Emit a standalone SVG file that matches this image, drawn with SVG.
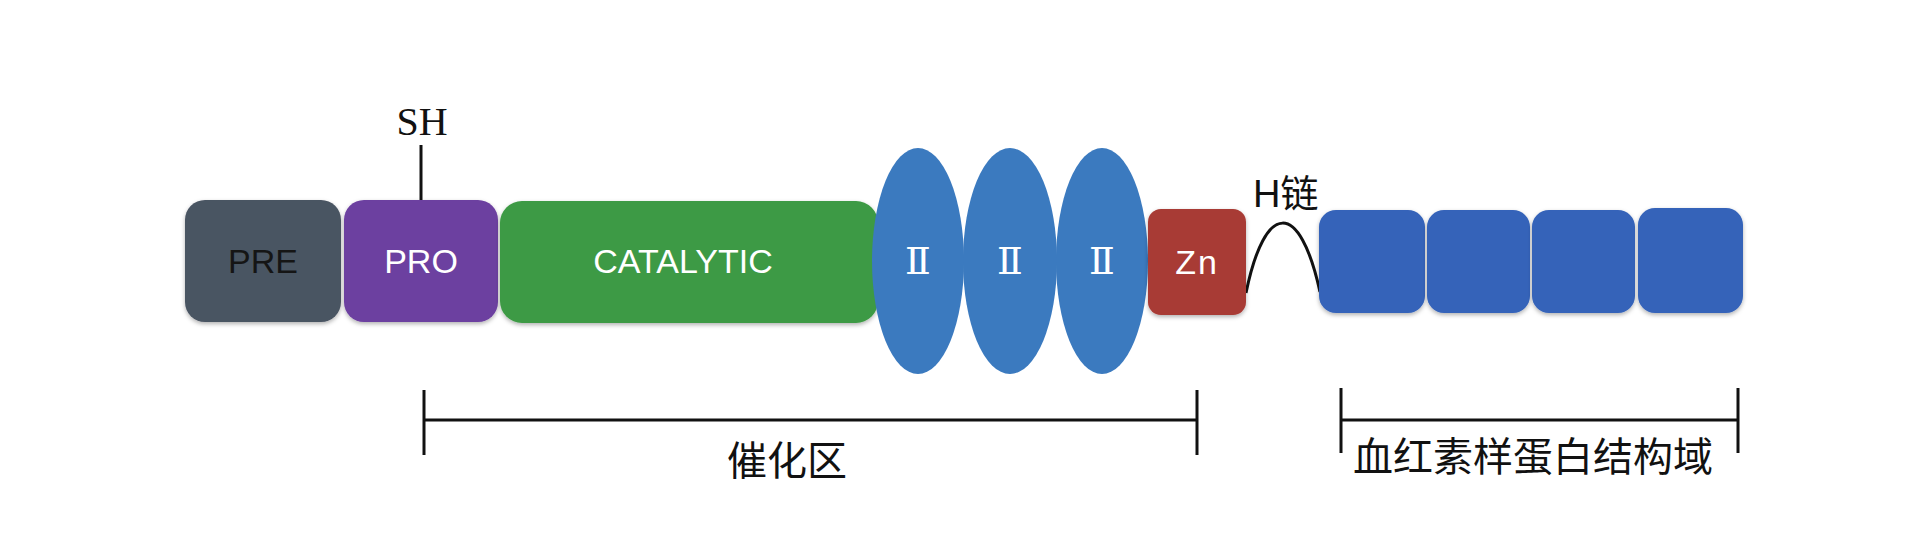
<svg xmlns="http://www.w3.org/2000/svg" width="1928" height="543" viewBox="0 0 1928 543">
<style>
.lbl{font-family:"Liberation Sans",Arial,sans-serif;font-size:34px;text-anchor:middle}
.w{fill:#ffffff}
.cjk{font-family:"Noto Sans CJK SC",sans-serif;font-size:40px;fill:#111}
.rn{font-family:"DejaVu Serif","Noto Sans CJK SC",serif;font-size:38px;fill:#fff;text-anchor:middle}
.ln{stroke:#111;stroke-width:3;fill:none}
</style>
<defs>
<filter id="sh" x="-10%" y="-10%" width="120%" height="130%">
<feDropShadow dx="0" dy="2" stdDeviation="2" flood-color="#000" flood-opacity="0.3"/>
</filter>
</defs>
<rect width="1928" height="543" fill="#ffffff"/>
<g id="connectors">
<line class="ln" x1="421" y1="145" x2="421" y2="201"/>
<path class="ln" d="M1246,293 C1265,200 1300,200 1320,292"/>
<line class="ln" x1="424" y1="390" x2="424" y2="455"/>
<line class="ln" x1="424" y1="420" x2="1197" y2="420"/>
<line class="ln" x1="1197" y1="390" x2="1197" y2="455"/>
<line class="ln" x1="1341" y1="388" x2="1341" y2="453"/>
<line class="ln" x1="1341" y1="420" x2="1738" y2="420"/>
<line class="ln" x1="1738" y1="388" x2="1738" y2="453"/>
</g>
<g id="sh-label"><text x="422" y="135" font-family="Liberation Serif,serif" font-size="40" text-anchor="middle" fill="#111">SH</text></g>
<g id="pre"><rect x="185" y="200" width="156" height="122" rx="20" fill="#4a5462" filter="url(#sh)"/><text class="lbl" x="263" y="273" fill="#151515">PRE</text></g>
<g id="pro"><rect x="344" y="200" width="154" height="122" rx="20" fill="#6c3fa0" filter="url(#sh)"/><text class="lbl w" x="421" y="273">PRO</text></g>
<g id="catalytic"><rect x="500" y="201" width="378" height="122" rx="22" fill="#3d9a44" filter="url(#sh)"/><text class="lbl w" x="683" y="273">CATALYTIC</text></g>
<g id="ig1"><ellipse cx="918" cy="261" rx="46" ry="113" fill="#3b7abf"/><text class="rn" x="918" y="274">Ⅱ</text></g>
<g id="ig2"><ellipse cx="1010" cy="261" rx="47" ry="113" fill="#3b7abf"/><text class="rn" x="1010" y="274">Ⅱ</text></g>
<g id="ig3"><ellipse cx="1102" cy="261" rx="46" ry="113" fill="#3b7abf"/><text class="rn" x="1102" y="274">Ⅱ</text></g>
<g id="zn"><rect x="1148" y="209" width="98" height="106" rx="13" fill="#a83a34" filter="url(#sh)"/><text class="lbl w" x="1197" y="274" font-size="30" letter-spacing="2">Zn</text></g>
<g id="hinge-label"><text x="1253" y="207" font-size="38" fill="#111"><tspan font-family="Liberation Sans,sans-serif">H</tspan><tspan font-family="Noto Sans CJK SC,sans-serif">链</tspan></text></g>
<g id="hx1"><rect x="1319" y="210" width="106" height="103" rx="17" fill="#3563b9" filter="url(#sh)"/></g>
<g id="hx2"><rect x="1427" y="210" width="103" height="103" rx="17" fill="#3563b9" filter="url(#sh)"/></g>
<g id="hx3"><rect x="1532" y="210" width="103" height="103" rx="17" fill="#3563b9" filter="url(#sh)"/></g>
<g id="hx4"><rect x="1638" y="208" width="105" height="105" rx="17" fill="#3563b9" filter="url(#sh)"/></g>
<g id="catalytic-domain-label"><text class="cjk" x="787" y="475" text-anchor="middle">催化区</text></g>
<g id="hemopexin-label"><text class="cjk" x="1533" y="471" text-anchor="middle">血红素样蛋白结构域</text></g>
</svg>
